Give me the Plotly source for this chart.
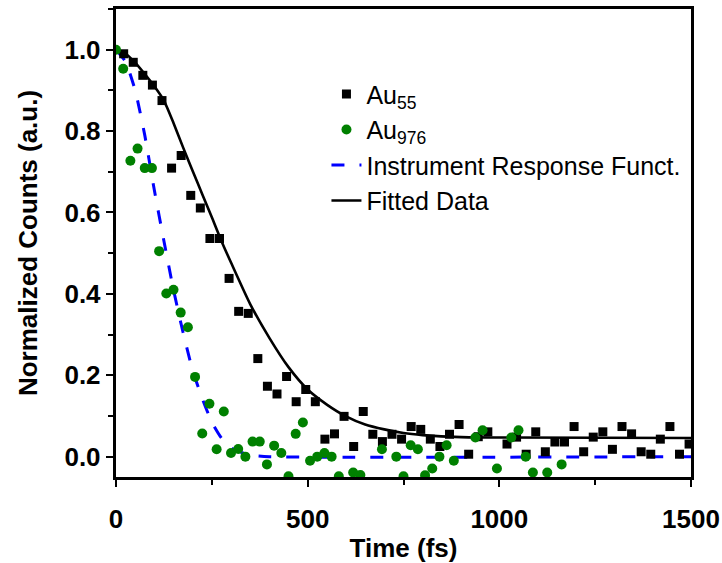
import plotly.graph_objects as go

# ---- data ----
au55_x = [20, 45, 70, 95, 120, 145, 170, 195, 220, 245, 270, 295, 320, 345, 370, 395,
          420, 445, 470, 495, 520, 545, 570, 595, 620, 645, 670, 695, 720, 745, 770, 795,
          820, 845, 870, 895, 920, 945, 970, 1020, 1045, 1070, 1095, 1120, 1145, 1170,
          1195, 1220, 1245, 1270, 1295, 1320, 1345, 1370, 1395, 1420, 1445, 1470, 1495]
au55_y = [0.990, 0.969, 0.937, 0.913, 0.875, 0.709, 0.740, 0.642, 0.611, 0.536, 0.536,
          0.438, 0.357, 0.352, 0.241, 0.173, 0.154, 0.197, 0.135, 0.165, 0.135, 0.043,
          0.056, 0.099, 0.025, 0.111, 0.055, 0.037, 0.055, 0.043, 0.074, 0.067, 0.043,
          0.025, 0.055, 0.079, 0.006, 0.049, 0.061, 0.031, 0.048, 0.006, 0.061, 0.012,
          0.036, 0.036, 0.074, 0.012, 0.048, 0.061, 0.018, 0.074, 0.056, 0.012, 0.006,
          0.043, 0.074, 0.006, 0.031]

au976_x = [0, 18.75, 37.5, 56.25, 75, 93.75, 112.5, 131.25, 150, 168.75, 187.5, 206.25,
           225, 243.75, 262.5, 281.25, 300, 318.75, 337.5, 356.25, 375, 393.75, 412.5,
           431.25, 450, 468.75, 487.5, 506.25, 525, 543.75, 562.5, 581.25, 618.75, 637.5,
           693.75, 731.25, 750, 768.75, 787.5, 806.25, 825, 843.75, 862.5, 881.25,
           937.5, 956.25, 993.75, 1031.25, 1050, 1068.75, 1087.5, 1125, 1162.5]
au976_y = [1.0, 0.953, 0.727, 0.757, 0.709, 0.709, 0.505, 0.401, 0.410, 0.354, 0.318,
           0.196, 0.057, 0.130, 0.018, 0.111, 0.009, 0.019, 0.0, 0.037, 0.037, -0.019,
           0.027, 0.009, -0.048, 0.056, 0.084, -0.010, 0.0, 0.009, 0.0, -0.048, -0.039,
           -0.045, 0.018, 0.0, -0.048, 0.028, 0.018, -0.046, -0.029, 0.0, 0.028, -0.010,
           0.047, 0.065, -0.029, 0.047, 0.065, 0.0, -0.039, -0.039, -0.019]

irf_x = [0, 25, 50, 75, 100, 125, 150, 175, 200, 225, 250, 275, 300, 325, 350, 400, 1500]
irf_y = [1.0, 0.97, 0.90, 0.79, 0.655, 0.53, 0.41, 0.305, 0.212, 0.143, 0.085, 0.046,
         0.022, 0.011, 0.004, 0.0, 0.0]

fit_x = [0, 25, 50, 75, 100, 125, 150, 175, 200, 225, 250, 275, 300, 350, 400, 450, 500,
         550, 600, 650, 700, 750, 800, 900, 1000, 1500]
fit_y = [1.0, 0.99, 0.968, 0.94, 0.91, 0.875, 0.82, 0.76, 0.702, 0.645, 0.588, 0.53,
         0.477, 0.375, 0.292, 0.220, 0.165, 0.128, 0.099, 0.079, 0.067, 0.058, 0.053,
         0.048, 0.047, 0.046]

names = ["Au<sub>55</sub>", "Au<sub>976</sub>", "Instrument Response Funct.", "Fitted Data"]
x_ticks = [0, 500, 1000, 1500]
y_ticks = [0.0, 0.2, 0.4, 0.6, 0.8, 1.0]

FONT = "Liberation Sans, Arial, sans-serif"

fig = go.Figure()
fig.add_trace(go.Scatter(x=irf_x, y=irf_y, mode="lines", name=names[2], legendrank=3,
                         line=dict(color="#0000ff", width=3, dash="13px,15px", shape="spline", smoothing=0.6)))
fig.add_trace(go.Scatter(x=fit_x, y=fit_y, mode="lines", name=names[3], legendrank=4,
                         line=dict(color="black", width=2.6, shape="spline", smoothing=0.6)))
fig.add_trace(go.Scatter(x=au55_x, y=au55_y, mode="markers", name=names[0], legendrank=1,
                         marker=dict(symbol="square", size=9, color="black")))
fig.add_trace(go.Scatter(x=au976_x, y=au976_y, mode="markers", name=names[1], legendrank=2,
                         marker=dict(symbol="circle", size=10, color="#008000")))

axis_common = dict(
    showline=True, linecolor="black", linewidth=3.4, mirror=True,
    ticks="outside", ticklen=7, tickwidth=2.2, tickcolor="black",
    showgrid=False, zeroline=False,
    tickfont=dict(family=FONT, size=26, color="black", weight="bold"),
)

fig.update_xaxes(range=[0, 1500], tickvals=x_ticks, ticktext=[str(v) for v in x_ticks],
                 ticklabelstandoff=10,
                 minor=dict(dtick=250, ticks="outside", ticklen=5, tickwidth=2.2, tickcolor="black"),
                 title=dict(text="Time (fs)", font=dict(family=FONT, size=26, color="black", weight="bold"),
                            standoff=6),
                 **axis_common)
fig.update_yaxes(range=[-0.05, 1.1], tickvals=y_ticks, ticktext=[f"{v:.1f}" for v in y_ticks],
                 minor=dict(dtick=0.1, tick0=0, ticks="outside", ticklen=5, tickwidth=2.2, tickcolor="black"),
                 title=dict(text="Normalized Counts (a.u.)", font=dict(family=FONT, size=26, color="black", weight="bold"),
                            standoff=20),
                 **axis_common)

fig.update_layout(
    width=722, height=563,
    margin=dict(l=116, r=31, t=9, b=86, autoexpand=False),
    paper_bgcolor="white", plot_bgcolor="white",
    showlegend=True,
    legend=dict(x=0.366, y=0.867, xanchor="left", yanchor="top",
                bgcolor="rgba(0,0,0,0)", borderwidth=0,
                font=dict(family=FONT, size=25, color="black"),
                tracegroupgap=0),
)

fig.write_html("out.html")
